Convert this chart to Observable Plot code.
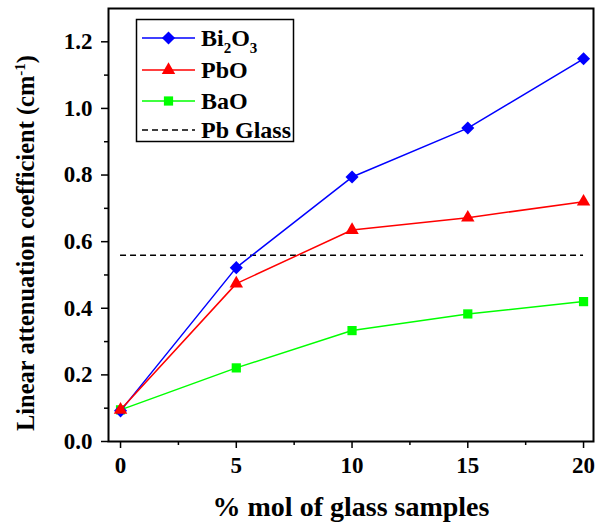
<!DOCTYPE html>
<html>
<head>
<meta charset="utf-8">
<script src="https://cdn.jsdelivr.net/npm/d3@7"></script>
<script src="https://cdn.jsdelivr.net/npm/@observablehq/plot@0.6"></script>
<style>
  html, body { margin: 0; padding: 0; background: #fff; }
  #chart { position: relative; width: 595px; height: 522px; }
  #chart svg { display: block; }
  #legend { position: absolute; left: 0; top: 0; pointer-events: none; }
</style>
</head>
<body>
<div id="chart"></div>
<script>
// Linear attenuation coefficient (cm^-1) vs. % mol of additive in the glass
const molPercent = [0, 5, 10, 15, 20];
const bi2o3 = [0.092, 0.522, 0.794, 0.941, 1.149];
const pbo   = [0.095, 0.474, 0.635, 0.672, 0.720];
const bao   = [0.095, 0.221, 0.333, 0.383, 0.420];
const pbGlass = 0.559;              // reference lead glass level

const seriesNames   = ["BaO", "Bi2O3", "PbO"];          // drawing order
const seriesValues  = [bao, bi2o3, pbo];
const seriesColors  = ["#00ff00", "#0000ff", "#ff0000"];
const seriesSymbols = ["square", "diamond2", "triangle"];
const seriesRadius  = [5.2, 5.9, 5.0];

const yTicks      = [0, 0.2, 0.4, 0.6, 0.8, 1.0, 1.2];
const yMinorTicks = [0.1, 0.3, 0.5, 0.7, 0.9, 1.1];
const xTicks      = [0, 5, 10, 15, 20];
const xMinorTicks = [2.5, 7.5, 12.5, 17.5];

const xTitle = "% mol of glass samples";
const yTitle = "Linear attenuation coefficient (cm";

const W = 595, H = 522;
const FONT = "'Liberation Serif', 'Times New Roman', serif";

const rows = seriesNames.flatMap((name, i) =>
  molPercent.map((x, j) => ({ series: name, x, y: seriesValues[i][j] })));

const seriesMarks = seriesNames.flatMap((name, i) => {
  const data = rows.filter(d => d.series === name);
  return [
    Plot.line(data, { x: "x", y: "y", stroke: seriesColors[i], strokeWidth: 1.5 }),
    Plot.dot(data, { x: "x", y: "y", fill: seriesColors[i], stroke: "none",
                     symbol: () => seriesSymbols[i], r: seriesRadius[i] })
  ];
});

const chart = Plot.plot({
  width: W,
  height: H,
  marginLeft: 108,
  marginRight: 2,
  marginTop: 8,
  marginBottom: 81,
  x: { domain: [-0.52, 20.43] },
  y: { domain: [0, 1.3] },
  style: { fontFamily: FONT, fontSize: "23px", fontWeight: "bold", background: "#fff", color: "#000", overflow: "visible" },
  marks: [
    Plot.ruleY([pbGlass], { x1: xTicks[0], x2: xTicks[xTicks.length - 1], stroke: "#000",
                            strokeWidth: 1.6, strokeDasharray: "6,4" }),
    ...seriesMarks,
    Plot.axisY(yTicks, { tickSize: 7, tickPadding: 9, tickFormat: d3.format(".1f"),
                         label: null, strokeWidth: 1.5, fontSize: 23 }),
    Plot.axisY(yMinorTicks, { tickSize: 4, text: null, label: null, strokeWidth: 1.5 }),
    Plot.axisX(xTicks, { tickSize: 7, tickPadding: 8, label: null, strokeWidth: 1.5, fontSize: 23 }),
    Plot.axisX(xMinorTicks, { tickSize: 4, text: null, label: null, strokeWidth: 1.5 }),
    Plot.frame({ stroke: "#000", strokeWidth: 2 })
  ]
});

const svg = d3.select(chart);

// axis titles
svg.append("text")
  .attr("x", 351).attr("y", 516)
  .attr("text-anchor", "middle")
  .style("font-family", FONT).style("font-weight", "bold").style("font-size", "28px")
  .attr("fill", "#000")
  .text(xTitle);

const yt = svg.append("text")
  .attr("transform", "translate(34,243) rotate(-90)")
  .attr("text-anchor", "middle")
  .style("font-family", FONT).style("font-weight", "bold").style("font-size", "24.5px")
  .attr("fill", "#000");
yt.append("tspan").text(yTitle);
yt.append("tspan").attr("dy", -9).style("font-size", "15px").text("-1");
yt.append("tspan").attr("dy", 9).text(")");

document.getElementById("chart").appendChild(chart);

// legend box, drawn on top of the plot area
const legendItems = [
  { label: ["Bi", "2", "O", "3"], color: "#0000ff", symbol: d3.symbolDiamond2, r: 5.9, dashed: false },
  { label: ["PbO"], color: "#ff0000", symbol: d3.symbolTriangle, r: 5.0, dashed: false },
  { label: ["BaO"], color: "#00ff00", symbol: d3.symbolSquare, r: 5.2, dashed: false },
  { label: ["Pb Glass"], color: "#000", symbol: null, r: 0, dashed: true }
];
const legendRowY = [38, 70, 101, 130];

const lg = d3.select("#chart").append("svg")
  .attr("id", "legend").attr("width", W).attr("height", H);

lg.append("rect")
  .attr("x", 136.5).attr("y", 19.5).attr("width", 157).attr("height", 122)
  .attr("fill", "#fff").attr("stroke", "#000").attr("stroke-width", 1.5);

legendItems.forEach((item, i) => {
  const y = legendRowY[i];
  lg.append("line")
    .attr("x1", 142).attr("x2", 195).attr("y1", y).attr("y2", y)
    .attr("stroke", item.color).attr("stroke-width", 1.6)
    .attr("stroke-dasharray", item.dashed ? "6,4" : null);
  if (item.symbol) {
    lg.append("path")
      .attr("transform", `translate(168.5,${y})`)
      .attr("d", d3.symbol(item.symbol, Math.PI * item.r * item.r)())
      .attr("fill", item.color);
  }
  const t = lg.append("text")
    .attr("x", 201).attr("y", y + 8)
    .style("font-family", FONT).style("font-weight", "bold").style("font-size", "24px")
    .attr("fill", "#000");
  if (item.label.length === 1) {
    t.text(item.label[0]);
  } else {
    t.append("tspan").text(item.label[0]);
    t.append("tspan").attr("dy", 7).style("font-size", "15px").text(item.label[1]);
    t.append("tspan").attr("dy", -7).text(item.label[2]);
    t.append("tspan").attr("dy", 7).style("font-size", "15px").text(item.label[3]);
  }
});
</script>
</body>
</html>
